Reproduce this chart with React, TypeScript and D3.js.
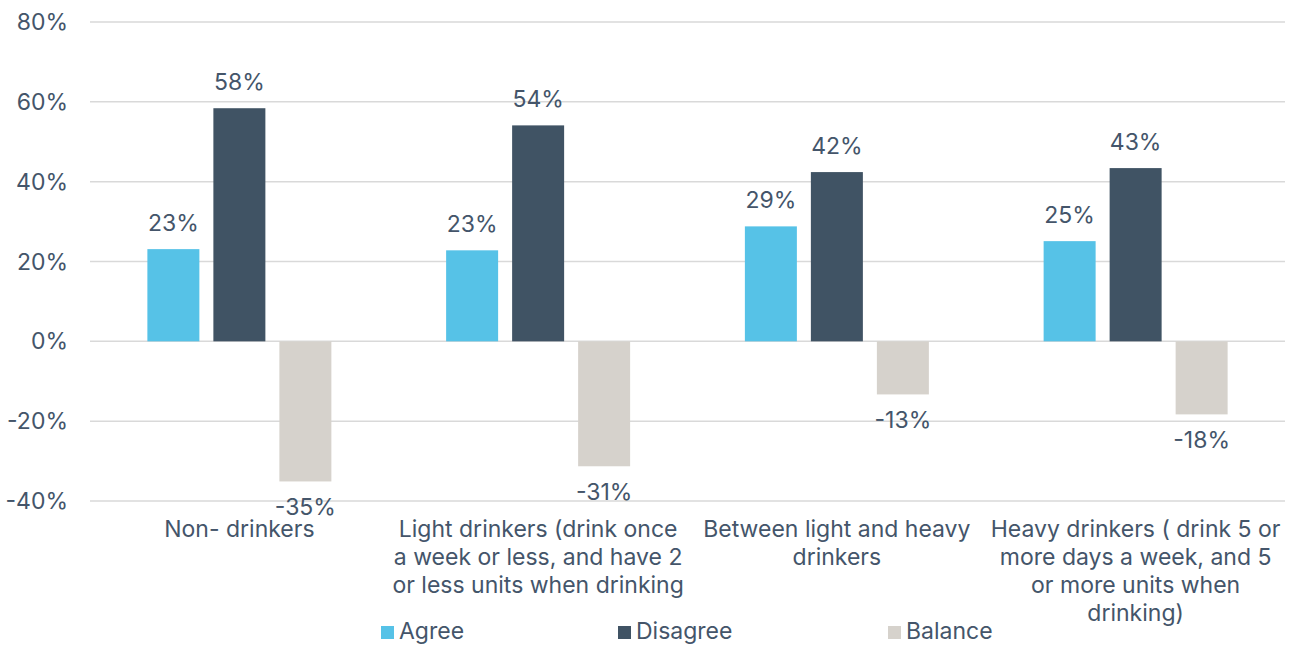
import React from "react";
import * as d3 from "d3";

const categories: string[][] = [
  ["Non- drinkers"],
  ["Light drinkers (drink once", "a week or less, and have 2", "or less units when drinking"],
  ["Between light and heavy", "drinkers"],
  ["Heavy drinkers ( drink 5 or", "more days a week, and 5", "or more units when", "drinking)"],
];
const seriesNames = ["Agree", "Disagree", "Balance"];
const agree = [23.1, 22.8, 28.8, 25.1];
const disagree = [58.4, 54.1, 42.4, 43.4];
const balance = [-35.1, -31.3, -13.3, -18.3];
const yTicks = [80, 60, 40, 20, 0, -20, -40];
const colors = ["#56C2E7", "#405364", "#D6D2CC"];

const W = 1289;
const H = 645;
const FONT = "Inter, Roboto, sans-serif";
const TEXT = "#44556A";
const FS = 23;

export default function App() {
  const series = [agree, disagree, balance];
  const x0 = d3.scaleBand<number>().domain(d3.range(categories.length)).range([90, 1285]);
  const x1 = d3.scaleBand<number>().domain([0, 1, 2]).range([0, 184]).paddingInner(14 / 66).paddingOuter(0);
  const y = d3.scaleLinear().domain([-40, 80]).range([501, 22]);
  const groupOffset = (x0.bandwidth() - 184) / 2;
  const legendX = [381, 618, 888];

  return (
    <svg width={W} height={H} style={{ position: "absolute", left: 0, top: 0, fontFamily: FONT }}>
      {yTicks.map((t) => (
        <g key={t}>
          <line x1={90} x2={1285} y1={y(t)} y2={y(t)} stroke="#D9D9D9" strokeWidth={1.5} />
          <text x={68} y={y(t) + 8} textAnchor="end" fontSize={FS} fill={TEXT}>
            {`${t}%`}
          </text>
        </g>
      ))}
      {categories.map((lines, ci) => (
        <g key={ci} transform={`translate(${x0(ci)! + groupOffset},0)`}>
          {series.map((s, si) => {
            const v = s[ci];
            const top = y(Math.max(0, v));
            const h = Math.abs(y(v) - y(0));
            const cx = x1(si)! + x1.bandwidth() / 2;
            return (
              <g key={si}>
                <rect x={x1(si)} y={top} width={x1.bandwidth()} height={h} fill={colors[si]} />
                <text
                  x={cx}
                  y={v >= 0 ? y(v) - 18 : y(v) + 34}
                  textAnchor="middle"
                  fontSize={FS}
                  fill={TEXT}
                >
                  {`${Math.round(v)}%`}
                </text>
              </g>
            );
          })}
        </g>
      ))}
      {categories.map((lines, ci) => (
        <text key={ci} textAnchor="middle" fontSize={FS} fill={TEXT}>
          {lines.map((l, li) => (
            <tspan key={li} x={x0(ci)! + x0.bandwidth() / 2} y={537 + li * 28}>
              {l}
            </tspan>
          ))}
        </text>
      ))}
      {seriesNames.map((n, i) => {
        const lx = legendX[i];
        return (
          <g key={n}>
            <rect x={lx} y={626} width={13} height={13} fill={colors[i]} />
            <text x={lx + 18} y={639} fontSize={FS} fill={TEXT}>
              {n}
            </text>
          </g>
        );
      })}
    </svg>
  );
}
